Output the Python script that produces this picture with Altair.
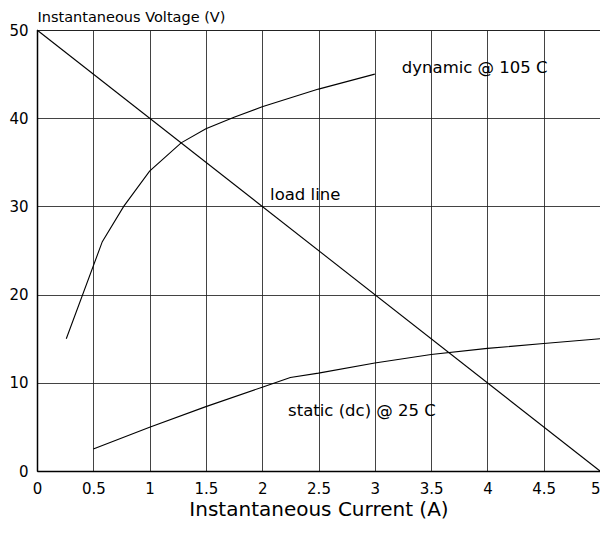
import altair as alt
import pandas as pd

# ---- data ----
load_x = [0.0, 5.0]
load_y = [50.0, 0.0]

dyn_x = [0.26, 0.58, 0.77, 1.0, 1.28, 1.5, 1.75, 2.0, 2.5, 3.0]
dyn_y = [15.0, 26.0, 30.0, 34.0, 37.2, 38.8, 40.1, 41.3, 43.3, 45.0]

static_x = [0.5, 1.0, 1.5, 2.0, 2.25, 2.5, 3.0, 3.5, 4.0, 4.5, 5.0]
static_y = [2.5, 4.95, 7.3, 9.5, 10.6, 11.1, 12.25, 13.2, 13.9, 14.45, 15.0]

label_text = ["dynamic @ 105 C", "load line", "static (dc) @ 25 C"]
label_x = [3.24, 2.07, 2.23]
label_y = [45.7, 31.3, 6.8]

x_ticks = [0, 0.5, 1, 1.5, 2, 2.5, 3, 3.5, 4, 4.5, 5]
y_ticks = [0, 10, 20, 30, 40, 50]

rows = []
for name, xs, ys in [("load", load_x, load_y), ("dynamic", dyn_x, dyn_y), ("static", static_x, static_y)]:
    for i, (a, b) in enumerate(zip(xs, ys)):
        rows.append({"series": name, "x": a, "y": b, "i": i})
lines_df = pd.DataFrame(rows)
labels_df = pd.DataFrame({"text": label_text, "x": label_x, "y": label_y})

FONT = "DejaVu Sans"

x_enc = alt.X(
    "x:Q",
    scale=alt.Scale(domain=[0, 5], nice=False, zero=False),
    axis=alt.Axis(
        values=x_ticks,
        title="Instantaneous Current (A)",
        titleFontSize=20,
        titleFontWeight="normal",
        titlePadding=3,
        labelFontSize=15,
        labelPadding=10,
        labelFlush=False,
        labelOverlap=False,
        labelAlign=alt.ExprRef(expr="datum.value >= 5 ? 'right' : 'center'"),
        ticks=False,
        grid=True,
        format="~g",
    ),
)
y_enc = alt.Y(
    "y:Q",
    scale=alt.Scale(domain=[0, 50], nice=False),
    axis=alt.Axis(
        values=y_ticks,
        title="Instantaneous Voltage (V)",
        titleAngle=0,
        titleAlign="left",
        titleBaseline="alphabetic",
        titleX=0,
        titleY=-9,
        titleFontSize=14.5,
        titleFontWeight="normal",
        labelFontSize=15,
        labelPadding=9,
        ticks=False,
        grid=True,
    ),
)

lines = alt.Chart(lines_df).mark_line(color="black", strokeWidth=1.1).encode(
    x=x_enc,
    y=y_enc,
    detail="series:N",
    order="i:Q",
)

labels = alt.Chart(labels_df).mark_text(
    align="left", baseline="middle", font=FONT, fontSize=16.5, color="black"
).encode(
    x=alt.X("x:Q"),
    y=alt.Y("y:Q"),
    text="text:N",
)

chart = (
    alt.layer(lines, labels)
    .properties(
        width=563,
        height=441,
        autosize=alt.AutoSizeParams(type="none"),
        padding={"left": 29, "top": 22, "right": 0, "bottom": 49},
        background="white",
    )
    .configure(font=FONT)
    .configure_axis(
        gridColor="#222222",
        gridOpacity=0.85,
        gridWidth=1,
        domainColor="black",
        domainWidth=1.5,
        labelColor="black",
        titleColor="black",
        labelFont=FONT,
        titleFont=FONT,
    )
    .configure_view(stroke="#222222", strokeWidth=1)
)

chart.save("out.html", embed_options={"renderer": "svg", "actions": False})
